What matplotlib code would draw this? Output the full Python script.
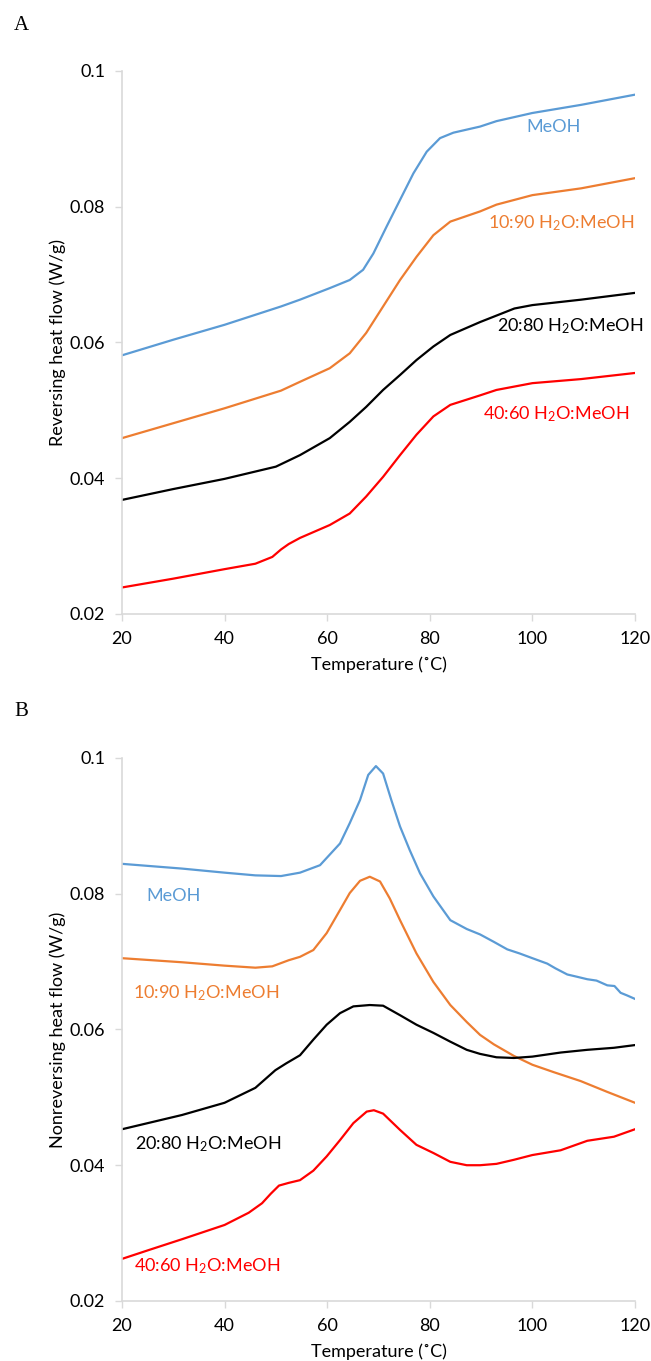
import matplotlib
matplotlib.use("Agg")
import matplotlib.pyplot as plt

plt.rcParams['font.family'] = ['Lato', 'DejaVu Sans']
plt.rcParams['mathtext.fontset'] = 'custom'
plt.rcParams['mathtext.rm'] = 'Lato'
plt.rcParams['mathtext.default'] = 'rm'

# colours of the four solvent systems
C_MEOH = '#5B9BD5'
C_1090 = '#ED7D31'
C_2080 = '#000000'
C_4060 = '#FF0000'
GRID = '#D9D9D9'

# --- A: reversing heat flow (W/g) ---
a_meoh_t = [20, 30, 40, 51, 54.7, 60.5, 64.4, 67, 69, 71.6, 74.2, 76.8, 79.4, 82, 84.6, 89.8, 93,
            100, 109.5, 120]
a_meoh_v = [0.0581, 0.0604, 0.0626, 0.0653, 0.0663, 0.0680, 0.0692, 0.0707, 0.0731, 0.0771, 0.0810,
            0.0849, 0.0881, 0.0901, 0.0909, 0.0918, 0.0926, 0.0938, 0.0950, 0.0965]

a_1090_t = [20, 30, 40, 51, 54.7, 60.5, 64.4, 67.6, 70.9, 74.2, 77.4, 80.7, 84, 89.8, 93, 100, 109.5, 120]
a_1090_v = [0.0459, 0.0481, 0.0503, 0.0529, 0.0542, 0.0562, 0.0584, 0.0614, 0.0653, 0.0692, 0.0726,
            0.0758, 0.0778, 0.0793, 0.0803, 0.0817, 0.0827, 0.0842]

a_2080_t = [20, 30, 40, 50, 54.7, 60.5, 64.4, 67.6, 70.9, 74.2, 77.4, 80.7, 84, 89.8, 96.5, 100, 109.5, 120]
a_2080_v = [0.0368, 0.0384, 0.0399, 0.0417, 0.0434, 0.0459, 0.0483, 0.0505, 0.0530, 0.0552, 0.0574,
            0.0594, 0.0611, 0.0630, 0.0650, 0.0655, 0.0663, 0.0673]

a_4060_t = [20, 30, 40, 46, 49.3, 51, 52.5, 54.7, 60.5, 64.4, 67.6, 70.9, 74.2, 77.4, 80.7, 84, 89.8,
            93, 100, 109.5, 120]
a_4060_v = [0.0239, 0.0252, 0.0266, 0.0274, 0.0284, 0.0295, 0.0303, 0.0312, 0.0331, 0.0348, 0.0373,
            0.0402, 0.0434, 0.0464, 0.0491, 0.0508, 0.0522, 0.0530, 0.0540, 0.0546, 0.0555]

# --- B: nonreversing heat flow (W/g) ---
b_meoh_t = [20, 25, 31.7, 40, 46, 51, 54.7, 58.6, 62.5, 64.4, 66.4, 68, 69.5, 70.9, 72.5, 74.2, 76.1,
            78.1, 80.7, 84, 87.2, 89.8, 92.5, 95.1, 97.5, 100, 102.9, 104.5, 106.8, 108.5, 110.7,
            112.5, 114.6, 116, 117.2, 118.5, 120]
b_meoh_v = [0.0844, 0.0841, 0.0837, 0.0831, 0.0827, 0.0826, 0.0831, 0.0842, 0.0874, 0.0904, 0.0938,
            0.0975, 0.0988, 0.0977, 0.0938, 0.0899, 0.0864, 0.0830, 0.0796, 0.0761, 0.0748, 0.0740,
            0.0729, 0.0718, 0.0712, 0.0705, 0.0697, 0.0690, 0.0681, 0.0678, 0.0674, 0.0672, 0.0665,
            0.0664, 0.0654, 0.0650, 0.0645]

b_1090_t = [20, 31.7, 40, 46, 49.3, 52.5, 54.7, 57.3, 59.9, 62.5, 64.4, 66.4, 68.3, 70.3, 72.2, 74.2,
            77.4, 80.7, 84, 87.2, 89.8, 92.5, 96.4, 100, 104.2, 109.4, 114.6, 120]
b_1090_v = [0.0705, 0.0699, 0.0694, 0.0691, 0.0693, 0.0702, 0.0707, 0.0717, 0.0742, 0.0776, 0.0801,
            0.0819, 0.0825, 0.0818, 0.0793, 0.0761, 0.0712, 0.0670, 0.0636, 0.0611, 0.0592, 0.0578,
            0.0561, 0.0548, 0.0537, 0.0524, 0.0508, 0.0492]

b_2080_t = [20, 31.7, 40, 46, 49.9, 52, 54.7, 57.3, 59.9, 62.5, 65.1, 68.3, 70.9, 74.2, 77.4, 80.7,
            84, 87.2, 89.8, 93, 96.4, 100, 105.5, 110.7, 115.9, 120]
b_2080_v = [0.0453, 0.0474, 0.0492, 0.0514, 0.0540, 0.0550, 0.0562, 0.0585, 0.0607, 0.0624, 0.0634,
            0.0636, 0.0635, 0.0621, 0.0607, 0.0595, 0.0582, 0.0570, 0.0564, 0.0559, 0.0558, 0.0560,
            0.0566, 0.0570, 0.0573, 0.0577]

b_4060_t = [20, 25.2, 31.7, 40, 44.7, 47.3, 49, 50.6, 52.5, 54.7, 57.3, 59.9, 62.5, 65.1, 67.7, 69.1,
            70.9, 74.2, 77.4, 80.7, 84, 87.2, 89.8, 93, 96.4, 100, 105.5, 110.7, 115.9, 120]
b_4060_v = [0.0262, 0.0275, 0.0291, 0.0312, 0.0330, 0.0344, 0.0358, 0.0370, 0.0374, 0.0378, 0.0392,
            0.0413, 0.0437, 0.0462, 0.0479, 0.0481, 0.0476, 0.0452, 0.0430, 0.0418, 0.0405, 0.0400,
            0.0400, 0.0402, 0.0408, 0.0415, 0.0422, 0.0436, 0.0442, 0.0453]

x_ticks = [20, 40, 60, 80, 100, 120]
y_ticks = [0.02, 0.04, 0.06, 0.08, 0.1]
y_ticklabels = ['0.02', '0.04', '0.06', '0.08', '0.1']

lbl_meoh = 'MeOH'
lbl_1090 = '10:90 H$_2$O:MeOH'
lbl_2080 = '20:80 H$_2$O:MeOH'
lbl_4060 = '40:60 H$_2$O:MeOH'

FS = 13


def style_axes(ax, ylabel):
    ax.set_xlim(20, 120)
    ax.set_ylim(0.02, 0.1)
    ax.set_xticks(x_ticks)
    ax.set_yticks(y_ticks)
    ax.set_yticklabels(y_ticklabels)
    for s in ['top', 'right']:
        ax.spines[s].set_visible(False)
    for s in ['left', 'bottom']:
        ax.spines[s].set_color(GRID)
        ax.spines[s].set_linewidth(1.2)
    ax.tick_params(axis='both', direction='out', length=5, width=1.0, color=GRID,
                   labelsize=FS, labelcolor='black', pad=7)
    ax.set_xlabel('Temperature (\u02daC)', fontsize=FS, labelpad=7)
    ax.set_ylabel(ylabel, fontsize=FS, labelpad=3)


fig = plt.figure(figsize=(6.51, 13.61), dpi=100)
ax1 = fig.add_axes([0.1874, 0.5489, 0.788, 0.3990])
ax2 = fig.add_axes([0.1874, 0.0441, 0.788, 0.3990])

lw = 1.6
ax1.plot(a_meoh_t, a_meoh_v, color=C_MEOH, lw=lw)
ax1.plot(a_1090_t, a_1090_v, color=C_1090, lw=lw)
ax1.plot(a_2080_t, a_2080_v, color=C_2080, lw=lw)
ax1.plot(a_4060_t, a_4060_v, color=C_4060, lw=lw)
style_axes(ax1, 'Reversing heat flow (W/g)')

ax1.text(104.2, 0.0918, lbl_meoh, color=C_MEOH, fontsize=FS, ha='center', va='center')
ax1.text(105.5, 0.0776, lbl_1090, color=C_1090, fontsize=FS, ha='center', va='center')
ax1.text(107.4, 0.0624, lbl_2080, color=C_2080, fontsize=FS, ha='center', va='center')
ax1.text(104.7, 0.0494, lbl_4060, color=C_4060, fontsize=FS, ha='center', va='center')

ax2.plot(b_meoh_t, b_meoh_v, color=C_MEOH, lw=lw)
ax2.plot(b_1090_t, b_1090_v, color=C_1090, lw=lw)
ax2.plot(b_2080_t, b_2080_v, color=C_2080, lw=lw)
ax2.plot(b_4060_t, b_4060_v, color=C_4060, lw=lw)
style_axes(ax2, 'Nonreversing heat flow (W/g)')

ax2.text(30.1, 0.0797, lbl_meoh, color=C_MEOH, fontsize=FS, ha='center', va='center')
ax2.text(36.3, 0.0654, lbl_1090, color=C_1090, fontsize=FS, ha='center', va='center')
ax2.text(36.8, 0.0431, lbl_2080, color=C_2080, fontsize=FS, ha='center', va='center')
ax2.text(36.6, 0.0251, lbl_4060, color=C_4060, fontsize=FS, ha='center', va='center')

fig.text(14 / 651, 1 - 25 / 1361, 'A', family=['Liberation Serif'], fontsize=15,
         ha='left', va='center')
fig.text(14 / 651, 1 - 712 / 1361, 'B', family=['Liberation Serif'], fontsize=15,
         ha='left', va='center')

fig.savefig('out.png', dpi=100)
